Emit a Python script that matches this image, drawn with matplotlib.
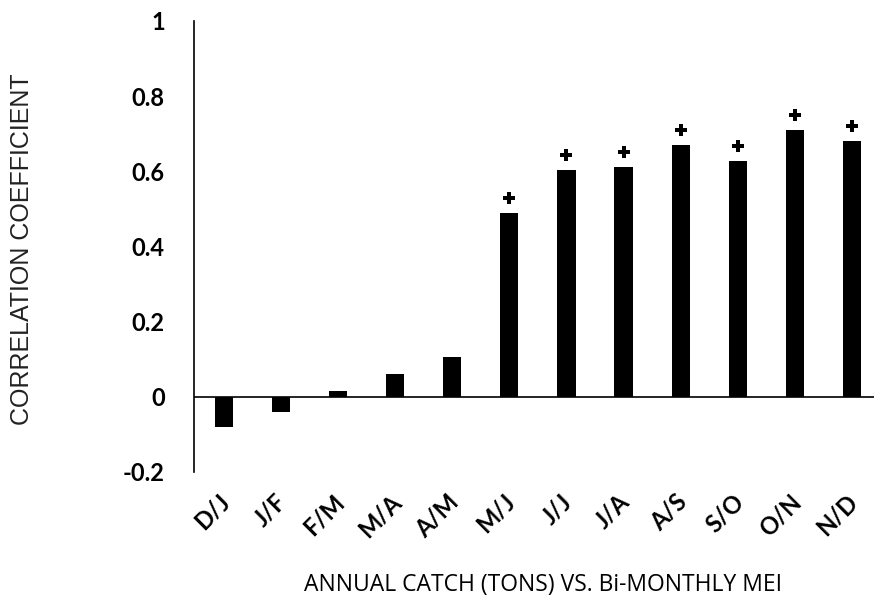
import matplotlib
matplotlib.use("Agg")
import matplotlib.pyplot as plt
from matplotlib.transforms import ScaledTranslation

categories = ["D/J", "J/F", "F/M", "M/A", "A/M", "M/J", "J/J", "J/A", "A/S", "S/O", "O/N", "N/D"]
values = [-0.08, -0.04, 0.016, 0.06, 0.106, 0.49, 0.604, 0.61, 0.671, 0.626, 0.711, 0.681]
significant = [False, False, False, False, False, True, True, True, True, True, True, True]
yticks = [-0.2, 0, 0.2, 0.4, 0.6, 0.8, 1]
ytick_labels = ["-0.2", "0", "0.2", "0.4", "0.6", "0.8", "1"]
xlabel = "ANNUAL CATCH (TONS) VS. Bi-MONTHLY MEI"
ylabel = "CORRELATION COEFFICIENT"

fig = plt.figure(figsize=(8.74, 6.04), dpi=100)
W, H = 874, 604
left = 194 / W
ax = fig.add_axes([left, (H - 471.7) / H, 1 - left, (471.7 - 21) / H])

x = list(range(len(categories)))
ax.bar(x, values, width=0.32, color="black", zorder=3)
for xi, v, s in zip(x, values, significant):
    if s:
        ax.plot(xi, v + 0.04, marker="P", color="black", markersize=8, markeredgewidth=0, zorder=4)

ax.set_xlim(-0.52, 11 + (874 - 852) / 57.1)
ax.set_ylim(-0.2, 1.0)
ax.axhline(0, color="black", lw=1.2, zorder=2)

for sp in ["top", "right", "bottom"]:
    ax.spines[sp].set_visible(False)
ax.spines["left"].set_linewidth(1.2)

ax.set_yticks(yticks)
ax.set_yticklabels(ytick_labels, fontfamily="Lato", fontweight="bold", fontsize=17)
ax.tick_params(axis="y", length=0, pad=21)
ax.set_xticks(x)
ax.set_xticklabels(categories, rotation=45, ha="right", va="top", rotation_mode="anchor",
                   fontfamily="Lato", fontweight="bold", fontsize=17)
ax.tick_params(axis="x", length=0, pad=13)
offset = ScaledTranslation(-6 / 100, 0, fig.dpi_scale_trans)
for lbl in ax.get_xticklabels():
    lbl.set_transform(lbl.get_transform() + offset)

fig.text(543 / W, 1 - 585 / H, xlabel, ha="center", va="center", fontfamily="Open Sans", fontsize=16.5)
fig.text(22 / W, 1 - 249 / H, ylabel, ha="center", va="center", rotation=90,
         fontfamily="Liberation Sans", fontsize=18, color="#222222")

fig.savefig("out.png", dpi=100)
